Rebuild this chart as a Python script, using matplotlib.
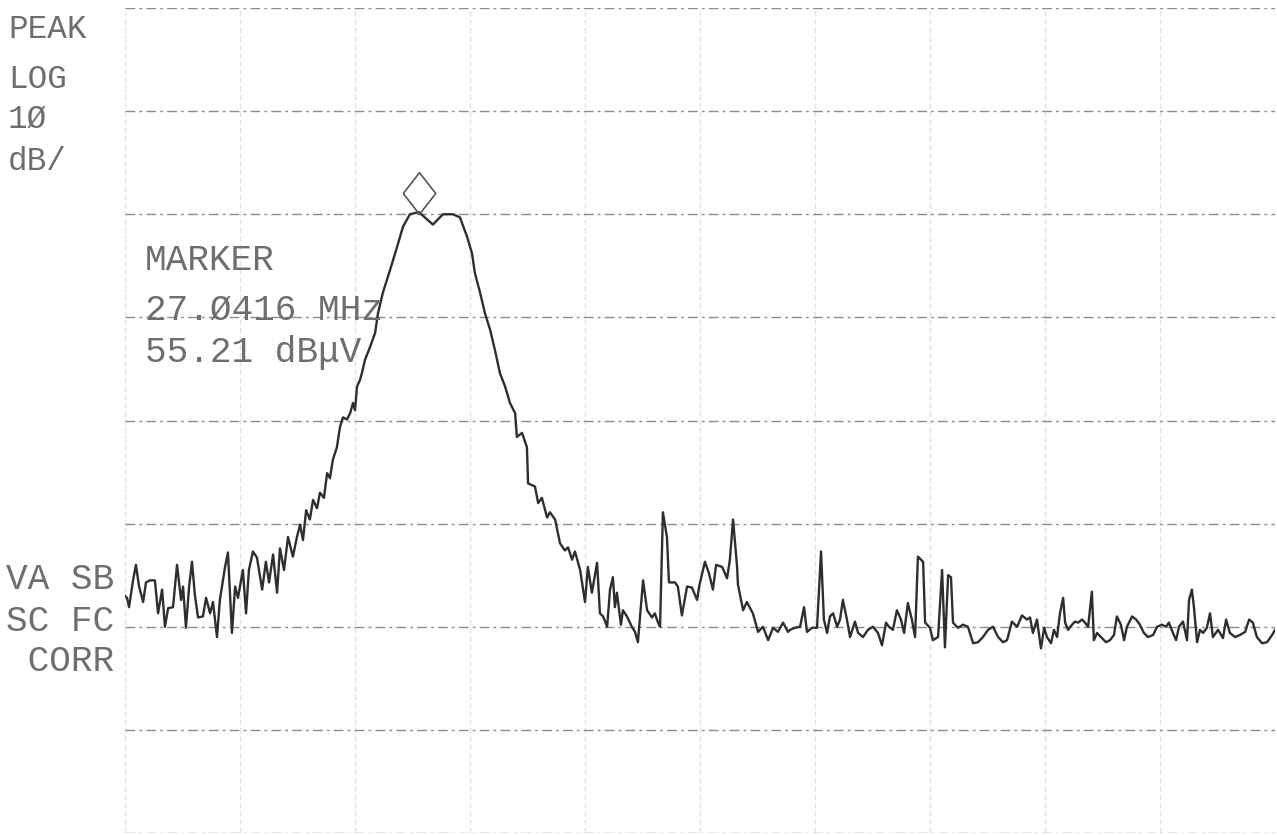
import numpy as np
import matplotlib
matplotlib.use("Agg")
import matplotlib.pyplot as plt
import matplotlib.transforms as mtransforms

ref_level = 75.0          # dBuV, top graticule line
db_per_div = 10.0
n_ydiv = 8
f_start, f_stop = 26.0, 30.0   # MHz
n_xdiv = 10

freq_mhz = [
    26.000, 26.007, 26.014, 26.028, 26.038, 26.049, 26.063, 26.073, 26.087, 26.104,
    26.115, 26.129, 26.139, 26.150, 26.167, 26.181, 26.195, 26.202, 26.212, 26.223,
    26.233, 26.243, 26.254, 26.271, 26.282, 26.296, 26.306, 26.320, 26.330, 26.348,
    26.358, 26.372, 26.383, 26.393, 26.410, 26.421, 26.431, 26.445, 26.459, 26.477,
    26.490, 26.501, 26.515, 26.529, 26.539, 26.553, 26.567, 26.584, 26.598,
    26.609, 26.619, 26.630, 26.643, 26.654, 26.668, 26.678, 26.692, 26.703, 26.713,
    26.723, 26.737, 26.748, 26.758, 26.772, 26.783, 26.793, 26.800, 26.807, 26.817,
    26.824, 26.835, 26.852, 26.870, 26.880, 26.897, 26.922, 26.946, 26.967, 26.991,
    27.022,
    27.071, 27.106, 27.141, 27.165, 27.190, 27.207, 27.217, 27.235, 27.252, 27.270,
    27.287, 27.304, 27.322, 27.339, 27.357, 27.363, 27.381, 27.398, 27.402, 27.426,
    27.437, 27.450, 27.468, 27.478, 27.496, 27.513, 27.530, 27.541, 27.555, 27.565,
    27.583, 27.600, 27.610, 27.624, 27.642, 27.652,
    27.663, 27.677, 27.687, 27.697, 27.704, 27.711, 27.725, 27.732, 27.746, 27.763,
    27.774, 27.784, 27.802, 27.816, 27.833, 27.843, 27.854, 27.861, 27.871, 27.885,
    27.892, 27.913, 27.923, 27.937, 27.955, 27.972, 27.990, 27.997, 28.017, 28.031,
    28.045, 28.056, 28.077, 28.094, 28.104, 28.115, 28.129, 28.132, 28.150, 28.163,
    28.184, 28.202, 28.219, 28.237, 28.254, 28.271, 28.289, 28.306,
    28.313, 28.330, 28.348, 28.362, 28.372, 28.390, 28.407, 28.421, 28.431, 28.442,
    28.452, 28.463, 28.477, 28.487, 28.497, 28.511, 28.522, 28.539, 28.550, 28.567,
    28.584, 28.602, 28.619, 28.633, 28.647, 28.657, 28.671, 28.685, 28.699, 28.710,
    28.723, 28.737, 28.748, 28.758, 28.776, 28.783, 28.800, 28.810, 28.828, 28.842,
    28.852, 28.863, 28.873, 28.880, 28.897, 28.915, 28.932, 28.950, 28.967, 28.984,
    29.002, 29.019, 29.037, 29.054, 29.068, 29.085, 29.103, 29.120, 29.137,
    29.148, 29.158, 29.172, 29.186, 29.197, 29.207, 29.221, 29.231, 29.242, 29.252,
    29.263, 29.270, 29.280, 29.294, 29.304, 29.315, 29.329, 29.339, 29.350, 29.363,
    29.370, 29.381, 29.398, 29.412, 29.426, 29.440, 29.450, 29.464, 29.475, 29.485,
    29.503, 29.517, 29.530, 29.544, 29.558, 29.576, 29.590, 29.607, 29.621, 29.631,
    29.645, 29.656, 29.666, 29.680, 29.694, 29.701, 29.711, 29.718, 29.729, 29.739,
    29.750, 29.763, 29.774, 29.784, 29.802, 29.819, 29.830, 29.843, 29.861, 29.878,
    29.896, 29.910, 29.923, 29.937, 29.955, 29.972, 29.990, 30.000,
]

level_dbuv = [
    18.0, 17.8, 16.9, 19.5, 21.0, 18.9, 17.4, 19.3, 19.5, 19.5,
    16.3, 18.6, 15.0, 16.8, 16.9, 21.0, 17.6, 18.9, 14.9, 18.9,
    21.3, 18.1, 15.9, 16.0, 17.8, 16.3, 17.4, 14.0, 17.6, 20.8,
    22.2, 14.4, 18.9, 17.8, 20.5, 16.3, 20.5, 22.3, 21.7, 18.6,
    21.3, 19.3, 22.0, 18.3, 22.6, 20.5, 23.7, 21.8, 23.7,
    24.9, 23.4, 26.3, 25.4, 27.3, 26.5, 28.0, 27.5, 29.9, 29.4,
    31.2, 32.4, 34.4, 35.3, 35.1, 35.7, 36.7, 36.0, 38.3, 38.9,
    39.6, 40.9, 42.1, 43.5, 45.4, 47.4, 49.6, 51.8, 53.8, 55.0,
    55.21,
    54.0, 55.0, 55.0, 54.7, 52.8, 51.2, 49.3, 47.4, 45.4, 43.8,
    41.8, 39.6, 38.3, 36.7, 35.7, 33.4, 33.8, 32.4, 28.9, 28.6,
    27.0, 27.5, 25.6, 26.1, 25.4, 23.1, 22.4, 22.7, 21.5, 22.3,
    20.5, 17.4, 20.8, 18.3, 21.2, 16.3,
    16.0, 15.0, 18.6, 19.8, 16.9, 18.3, 15.2, 16.6, 16.0, 15.0,
    14.5, 13.5, 19.5, 16.6, 15.9, 16.3, 15.4, 15.0, 26.1, 23.7,
    19.3, 19.3, 18.9, 16.1, 18.9, 18.8, 17.6, 18.9, 21.3, 20.2,
    18.6, 21.0, 20.8, 19.7, 21.5, 25.4, 20.8, 19.1, 16.6, 17.4,
    16.3, 14.5, 15.0, 13.7, 14.9, 14.5, 15.4, 14.5,
    14.7, 14.9, 15.0, 16.9, 14.5, 14.9, 14.9, 22.3, 15.7, 14.4,
    16.0, 16.3, 15.0, 15.7, 17.6, 15.7, 14.0, 15.5, 14.4, 14.0,
    14.7, 15.0, 14.4, 13.2, 15.4, 15.0, 14.7, 16.6, 15.7, 14.4,
    17.3, 15.7, 14.0, 21.8, 21.3, 15.4, 14.9, 13.7, 14.0, 20.5,
    13.0, 20.0, 19.8, 15.4, 14.9, 15.2, 15.0, 13.4, 13.5, 14.0,
    14.7, 15.0, 14.0, 13.5, 13.7, 15.5, 15.0, 16.1, 15.7,
    15.9, 14.4, 15.7, 12.9, 14.9, 14.0, 13.4, 14.7, 14.0, 16.3,
    17.8, 15.4, 14.7, 15.2, 15.5, 15.4, 15.7, 15.4, 15.0, 18.4,
    13.7, 14.4, 13.9, 13.5, 13.7, 14.2, 16.0, 15.2, 13.7, 15.0,
    16.0, 15.7, 15.2, 14.4, 14.0, 14.2, 15.0, 15.2, 15.0, 15.4,
    14.4, 13.7, 15.0, 15.5, 13.7, 17.6, 18.6, 16.9, 13.5, 14.7,
    14.4, 14.9, 16.3, 14.0, 14.7, 13.9, 15.7, 14.4, 14.0, 14.2,
    14.5, 15.7, 15.4, 14.0, 13.4, 13.5, 14.2, 14.7,
]

left_top_labels = ["PEAK", "LOG", "1Ø", "dB/"]
marker_labels = ["MARKER", "27.Ø416 MHz", "55.21 dBμV"]
left_bottom_labels = ["VA SB", "SC FC", " CORR"]

# ---- figure ----
W, H = 1277, 835
fig = plt.figure(figsize=(W / 100, H / 100), dpi=100)
fig.patch.set_facecolor("white")
ax = fig.add_axes([125 / W, 2 / H, 1150 / W, 825 / H])

bottom = ref_level - n_ydiv * db_per_div
ax.set_xlim(f_start, f_stop)
ax.set_ylim(bottom, ref_level)
ax.set_xticks(np.linspace(f_start, f_stop, n_xdiv + 1))
ax.set_yticks(np.linspace(bottom, ref_level, n_ydiv + 1))
ax.tick_params(length=0, labelbottom=False, labelleft=False)
for s in ax.spines.values():
    s.set_visible(False)
ax.grid(axis="y", color="#8c8c8c", lw=1.0, ls=(0, (7, 3, 2, 3)))
ax.grid(axis="x", color="#e2e2e2", lw=1.0, ls=(0, (4, 2)))
ax.set_axisbelow(True)

ax.plot(freq_mhz, level_dbuv, color="#2e2e2e", lw=1.7, solid_joinstyle="round")

# marker diamond above the peak
ipk = int(np.argmax(level_dbuv))
off = mtransforms.offset_copy(ax.transData, fig=fig, x=0, y=19, units="dots")
ax.plot([freq_mhz[ipk]], [level_dbuv[ipk]], transform=off,
        marker=[(-0.78, 0), (0, 1), (0.78, 0), (0, -1), (-0.78, 0)],
        markersize=30, mfc="none", mec="#555555", mew=1.2, ls="none")

tc = "#6e6e6e"
fam = ["Liberation Mono", "DejaVu Sans Mono"]
for txt, yb in zip(left_top_labels, [38, 88, 128, 170]):
    fig.text(8 / W, 1 - yb / H, txt, family=fam, fontsize=23.5, color=tc, va="baseline", ha="left")
for txt, yb in zip(marker_labels, [270, 320, 362]):
    fig.text(145 / W, 1 - yb / H, txt, family=fam, fontsize=26, color=tc, va="baseline", ha="left")
for txt, yb in zip(left_bottom_labels, [589, 631, 671]):
    fig.text(6 / W, 1 - yb / H, txt, family=fam, fontsize=26, color=tc, va="baseline", ha="left")

fig.savefig("out.png", dpi=100, facecolor="white")
